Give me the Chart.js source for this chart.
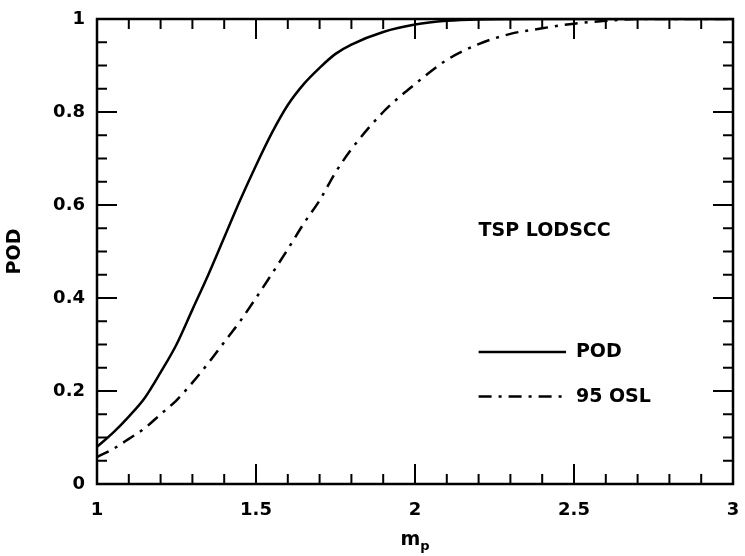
<!DOCTYPE html>
<html>
<head>
<meta charset="utf-8">
<script src="https://cdn.jsdelivr.net/npm/chart.js@4/dist/chart.umd.min.js"></script>
<style>
  html, body { margin: 0; padding: 0; background: #fff; }
  #wrap { width: 745px; height: 556px; position: relative; }
</style>
</head>
<body>
<div id="wrap"><canvas id="c" width="745" height="556"></canvas></div>
<script>
// ---- Data ----
const mpPOD = [1.0, 1.05, 1.1, 1.15, 1.2, 1.25, 1.3, 1.35, 1.4, 1.45, 1.5, 1.55, 1.6, 1.65, 1.7, 1.75, 1.8, 1.9, 2.0, 2.1, 2.2, 2.4, 2.7, 3.0];
const podValues = [0.08, 0.11, 0.145, 0.185, 0.24, 0.30, 0.375, 0.45, 0.53, 0.61, 0.685, 0.755, 0.815, 0.86, 0.895, 0.925, 0.945, 0.972, 0.988, 0.996, 0.999, 1.0, 1.0, 1.0];
const mpOSL = [1.0, 1.05, 1.1, 1.15, 1.2, 1.25, 1.3, 1.35, 1.4, 1.45, 1.5, 1.55, 1.6, 1.65, 1.7, 1.75, 1.8, 1.9, 2.0, 2.1, 2.2, 2.3, 2.4, 2.5, 2.6, 2.7, 3.0];
const oslValues = [0.058, 0.075, 0.097, 0.12, 0.15, 0.18, 0.218, 0.26, 0.305, 0.35, 0.40, 0.452, 0.505, 0.56, 0.61, 0.67, 0.72, 0.80, 0.86, 0.912, 0.946, 0.968, 0.98, 0.99, 0.996, 1.0, 1.0];
const seriesLabels = ["POD", "95 OSL"];
const xTickValues = [1, 1.5, 2, 2.5, 3];
const yTickValues = [0, 0.2, 0.4, 0.6, 0.8, 1];
const chartNote = "TSP LODSCC";
const xTitle = "m";
const xTitleSub = "p";
const yTitle = "POD";

const FONT = "'DejaVu Sans', sans-serif";
const DASHDOT = [13, 7, 3, 7];

const toPts = (xs, ys) => xs.map((x, i) => ({ x: x, y: ys[i] }));

const framePlugin = {
  id: 'frame',
  afterDraw(chart) {
    const ctx = chart.ctx;
    const xs = chart.scales.x, ys = chart.scales.y;
    const a = chart.chartArea;
    ctx.save();
    ctx.strokeStyle = '#000';
    ctx.fillStyle = '#000';
    ctx.lineWidth = 2.5;
    ctx.lineCap = 'butt';
    ctx.strokeRect(a.left, a.top, a.right - a.left, a.bottom - a.top);
    // x ticks (minor every 0.1, major every 0.5), bottom and top, pointing inward
    ctx.lineWidth = 2;
    for (let i = 11; i < 30; i++) {
      const px = xs.getPixelForValue(i / 10);
      const len = (i % 5 === 0) ? 20 : 10;
      ctx.beginPath();
      ctx.moveTo(px, a.bottom); ctx.lineTo(px, a.bottom - len);
      ctx.moveTo(px, a.top); ctx.lineTo(px, a.top + len);
      ctx.stroke();
    }
    // y ticks (minor every 0.05, major every 0.2), left and right
    for (let i = 1; i < 20; i++) {
      const py = ys.getPixelForValue(i / 20);
      const len = (i % 4 === 0) ? 20 : 10;
      ctx.beginPath();
      ctx.moveTo(a.left, py); ctx.lineTo(a.left + len, py);
      ctx.moveTo(a.right, py); ctx.lineTo(a.right - len, py);
      ctx.stroke();
    }
    // note text
    ctx.font = "bold 19px " + FONT;
    ctx.textBaseline = 'middle';
    ctx.textAlign = 'left';
    ctx.fillText(chartNote, xs.getPixelForValue(2.2), ys.getPixelForValue(0.545));
    // legend
    const lx0 = xs.getPixelForValue(2.2), lx1 = xs.getPixelForValue(2.475), tx = xs.getPixelForValue(2.506);
    const ly = [ys.getPixelForValue(0.284), ys.getPixelForValue(0.188)];
    chart.data.datasets.forEach((ds, k) => {
      ctx.lineWidth = 2.5;
      ctx.setLineDash(ds.borderDash || []);
      ctx.beginPath();
      ctx.moveTo(lx0, ly[k]); ctx.lineTo(lx1, ly[k]);
      ctx.stroke();
      ctx.setLineDash([]);
      ctx.font = "bold 19px " + FONT;
      ctx.fillText(ds.label, tx, ly[k]);
    });
    // axis titles
    ctx.font = "bold 19px " + FONT;
    ctx.textAlign = 'center';
    ctx.save();
    ctx.translate(15, (a.top + a.bottom) / 2);
    ctx.rotate(-Math.PI / 2);
    ctx.fillText(yTitle, 0, 0);
    ctx.restore();
    const midX = (a.left + a.right) / 2;
    ctx.textAlign = 'left';
    ctx.textBaseline = 'alphabetic';
    const mw = ctx.measureText(xTitle).width;
    ctx.font = "bold 13px " + FONT;
    const pw = ctx.measureText(xTitleSub).width;
    const startX = midX - (mw + pw) / 2;
    ctx.font = "bold 19px " + FONT;
    ctx.fillText(xTitle, startX, 545);
    ctx.font = "bold 13px " + FONT;
    ctx.fillText(xTitleSub, startX + mw, 550);
    ctx.restore();
  }
};

new Chart(document.getElementById('c'), {
  type: 'line',
  data: {
    datasets: [
      {
        label: seriesLabels[0],
        data: toPts(mpPOD, podValues),
        borderColor: '#000',
        borderWidth: 2.5,
        pointRadius: 0,
        fill: false,
        cubicInterpolationMode: 'monotone'
      },
      {
        label: seriesLabels[1],
        data: toPts(mpOSL, oslValues),
        borderColor: '#000',
        borderWidth: 2.5,
        borderDash: DASHDOT,
        pointRadius: 0,
        fill: false,
        cubicInterpolationMode: 'monotone'
      }
    ]
  },
  options: {
    responsive: false,
    animation: false,
    events: [],
    layout: { padding: { top: 19, right: 12, left: 0, bottom: 0 } },
    plugins: { legend: { display: false }, tooltip: { enabled: false }, title: { display: false } },
    scales: {
      x: {
        type: 'linear',
        min: 1, max: 3,
        grid: { display: false, drawTicks: false },
        border: { display: false },
        afterBuildTicks: (s) => { s.ticks = xTickValues.map(v => ({ value: v })); },
        afterFit: (s) => { s.height = 72; s.paddingLeft = 0; s.paddingRight = 0; },
        ticks: { color: '#000', padding: 16, maxRotation: 0, autoSkip: false,
                 callback: (v) => String(v),
                 font: { family: FONT, weight: 'bold', size: 18 } }
      },
      y: {
        type: 'linear',
        min: 0, max: 1,
        grid: { display: false, drawTicks: false },
        border: { display: false },
        afterBuildTicks: (s) => { s.ticks = yTickValues.map(v => ({ value: v })); },
        afterFit: (s) => { s.width = 97; s.paddingTop = 0; s.paddingBottom = 0; },
        ticks: { color: '#000', padding: 12, autoSkip: false,
                 callback: (v) => String(v),
                 font: { family: FONT, weight: 'bold', size: 18 } }
      }
    }
  },
  plugins: [framePlugin]
});
</script>
</body>
</html>
